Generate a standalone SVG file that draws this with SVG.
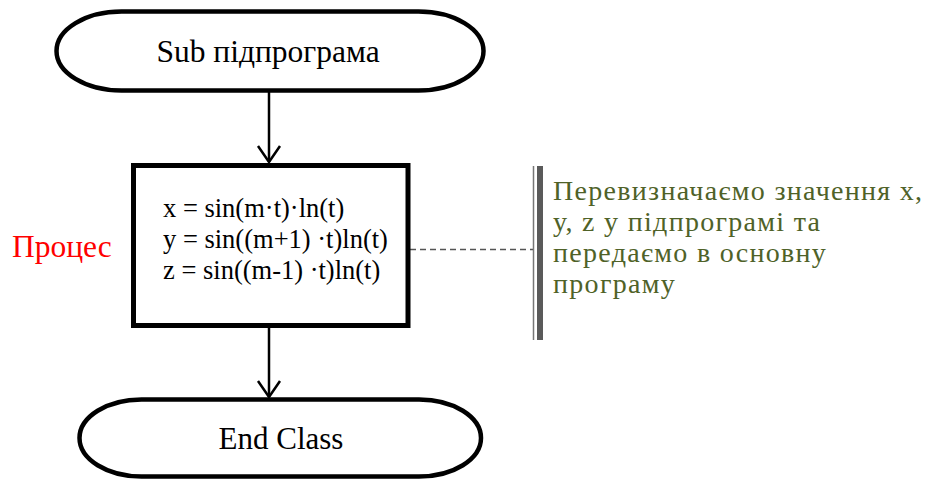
<svg xmlns="http://www.w3.org/2000/svg" width="944" height="479" viewBox="0 0 944 479">
<defs>
<style>
.term{fill:#fff;stroke:#000;stroke-width:4.5}
.proc{fill:#fff;stroke:#000;stroke-width:5}
.t{font-family:"Liberation Serif","Times New Roman",serif;fill:#000}
.conn{fill:none;stroke:#000;stroke-width:2.5}
.note{font-family:"Liberation Serif","Times New Roman",serif;fill:#4f6228;font-size:28px;letter-spacing:1.3px}
</style>
</defs>
<rect width="944" height="479" fill="#fff"/>
<g id="connectors">
<line class="conn" x1="269" y1="91" x2="269" y2="162"/>
<polyline class="conn" points="258,146 269,162 280,146"/>
<line class="conn" x1="269" y1="327" x2="269" y2="397"/>
<polyline class="conn" points="258,381 269,397 280,381"/>
<line x1="410" y1="249.5" x2="533" y2="249.5" stroke="#555" stroke-width="1.5" stroke-dasharray="6 4"/>
</g>
<g id="start">
<rect class="term" x="56.5" y="11.5" width="427" height="79" rx="65" ry="39.5"/>
<text class="t" x="268" y="62" font-size="31.5" text-anchor="middle">Sub підпрограма</text>
</g>
<g id="process">
<rect class="proc" x="133.5" y="165.5" width="274.5" height="160"/>
<text class="t" font-size="26.5"><tspan x="163" y="217">x = sin(m·t)·ln(t)</tspan><tspan x="163" y="248">y = sin((m+1) ·t)ln(t)</tspan><tspan x="163" y="279">z = sin((m-1) ·t)ln(t)</tspan></text>
</g>
<g id="process-label">
<text x="12" y="257" font-family="Liberation Serif,'Times New Roman',serif" font-size="31.5" fill="#ff0000">Процес</text>
</g>
<g id="end">
<rect class="term" x="79.5" y="399.5" width="401.5" height="77" rx="62" ry="38.5"/>
<text class="t" x="281" y="449" font-size="31" text-anchor="middle">End Class</text>
</g>
<g id="annotation">
<line x1="533.5" y1="166" x2="533.5" y2="340" stroke="#777" stroke-width="1.5"/>
<rect x="537" y="166" width="6" height="174" fill="#5a5a5a"/>
<text class="note"><tspan x="553" y="200">Перевизначаємо значення x,</tspan><tspan x="553" y="231">у, z у підпрограмі та</tspan><tspan x="553" y="262">передаємо в основну</tspan><tspan x="553" y="293">програму</tspan></text>
</g>
</svg>
